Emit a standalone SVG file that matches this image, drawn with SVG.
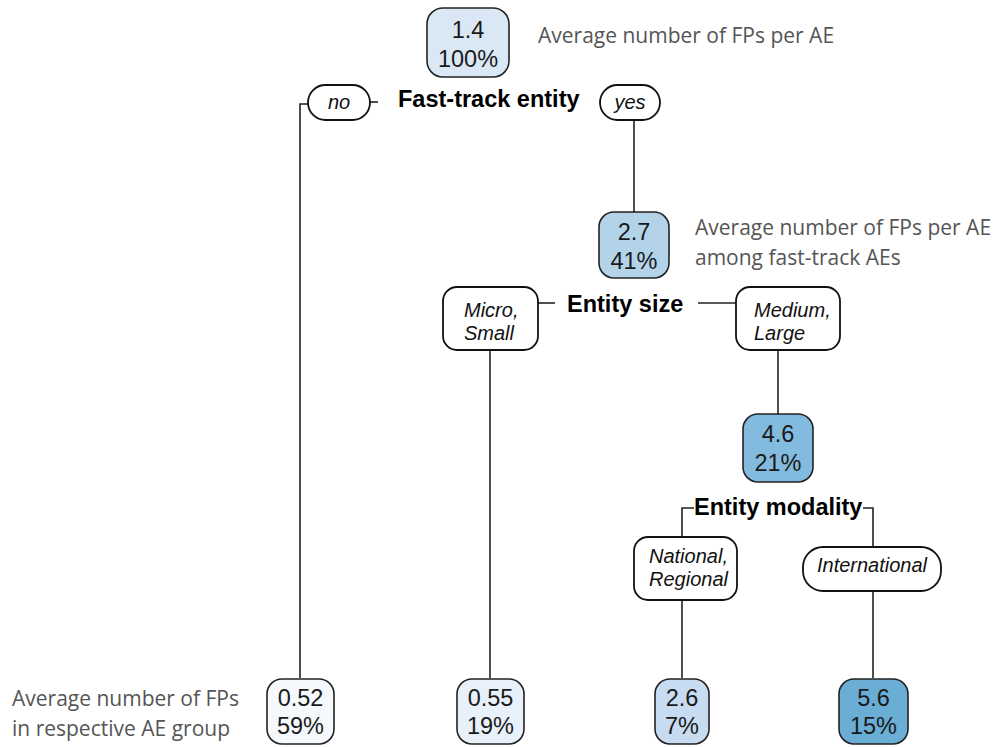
<svg xmlns="http://www.w3.org/2000/svg" width="1000" height="747" viewBox="0 0 1000 747">
<style>
.val{stroke:#222;stroke-width:1.6}
.lbl{fill:#fff;stroke:#111;stroke-width:1.8}
.vt{font-family:"Liberation Sans",Arial,sans-serif;font-size:23.5px;fill:#1a1a1a;text-anchor:middle}
.it{font-family:"Liberation Sans",Arial,sans-serif;font-size:20px;font-style:italic;fill:#111}
.bold{font-family:"Liberation Sans",Arial,sans-serif;font-size:23.5px;font-weight:bold;fill:#000}
.note{font-family:"Open Sans",sans-serif;font-size:21px;fill:#555}
.conn{fill:none;stroke:#222;stroke-width:1.6}
</style>
<rect width="1000" height="747" fill="#fff"/>
<g id="connectors">
<path class="conn" d="M308,104 H300 V678"/>
<path class="conn" d="M370,102 H378"/>
<path class="conn" d="M634,120 V212"/>
<path class="conn" d="M538,303 H555"/>
<path class="conn" d="M698,303 H736"/>
<path class="conn" d="M490,350 V678"/>
<path class="conn" d="M778,350 V414"/>
<path class="conn" d="M694,508 H682 V537"/>
<path class="conn" d="M863,508 H873 V547"/>
<path class="conn" d="M682,600 V678"/>
<path class="conn" d="M873,591 V678"/>
</g>
<g id="root">
<rect class="val" x="427" y="8" width="82" height="69" rx="16" fill="#dae8f5"/>
<text class="vt" x="468" y="38">1.4</text>
<text class="vt" x="468" y="67">100%</text>
</g>
<g id="note-top"><text class="note" x="538" y="43">Average number of FPs per AE</text></g>
<g id="label-fasttrack"><text class="bold" x="398" y="107">Fast-track entity</text></g>
<g id="no"><rect class="lbl" x="308" y="85" width="62" height="35" rx="17.5"/><text class="it" x="339" y="109" text-anchor="middle">no</text></g>
<g id="yes"><rect class="lbl" x="600" y="85" width="60" height="35" rx="17.5"/><text class="it" x="630" y="109" text-anchor="middle">yes</text></g>
<g id="fasttrack">
<rect class="val" x="599" y="212" width="70" height="66" rx="15" fill="#b3d3e9"/>
<text class="vt" x="634" y="240">2.7</text>
<text class="vt" x="634" y="269">41%</text>
</g>
<g id="note-mid"><text class="note" x="695" y="235">Average number of FPs per AE</text><text class="note" x="695" y="265">among fast-track AEs</text></g>
<g id="label-size"><text class="bold" x="567" y="312">Entity size</text></g>
<g id="micro"><rect class="lbl" x="443" y="287" width="95" height="63" rx="14"/><text class="it" x="464" y="317">Micro,</text><text class="it" x="464" y="340">Small</text></g>
<g id="medium"><rect class="lbl" x="736" y="287" width="104" height="63" rx="14"/><text class="it" x="754" y="317">Medium,</text><text class="it" x="754" y="340">Large</text></g>
<g id="large">
<rect class="val" x="743" y="414" width="70" height="68" rx="15" fill="#82bbdd"/>
<text class="vt" x="778" y="442">4.6</text>
<text class="vt" x="778" y="471">21%</text>
</g>
<g id="label-modality"><text class="bold" x="694" y="515">Entity modality</text></g>
<g id="national"><rect class="lbl" x="634" y="537" width="103" height="63" rx="14"/><text class="it" x="649" y="563">National,</text><text class="it" x="649" y="586">Regional</text></g>
<g id="international"><rect class="lbl" x="803" y="547" width="138" height="44" rx="20"/><text class="it" x="872" y="572" text-anchor="middle">International</text></g>
<g id="note-bottom"><text class="note" x="12" y="706">Average number of FPs</text><text class="note" x="12" y="736">in respective AE group</text></g>
<g id="leaf-no">
<rect class="val" x="267" y="679" width="67" height="65" rx="15" fill="#f5f9fd"/>
<text class="vt" x="300.5" y="706">0.52</text>
<text class="vt" x="300.5" y="734">59%</text>
</g>
<g id="leaf-small">
<rect class="val" x="457" y="679" width="67" height="65" rx="15" fill="#e8f0f9"/>
<text class="vt" x="490.5" y="706">0.55</text>
<text class="vt" x="490.5" y="734">19%</text>
</g>
<g id="leaf-national">
<rect class="val" x="655" y="679" width="54" height="65" rx="15" fill="#c7dcf0"/>
<text class="vt" x="682" y="706">2.6</text>
<text class="vt" x="682" y="734">7%</text>
</g>
<g id="leaf-international">
<rect class="val" x="839" y="679" width="69" height="65" rx="15" fill="#6aaed6"/>
<text class="vt" x="873.5" y="706">5.6</text>
<text class="vt" x="873.5" y="734">15%</text>
</g>
</svg>
